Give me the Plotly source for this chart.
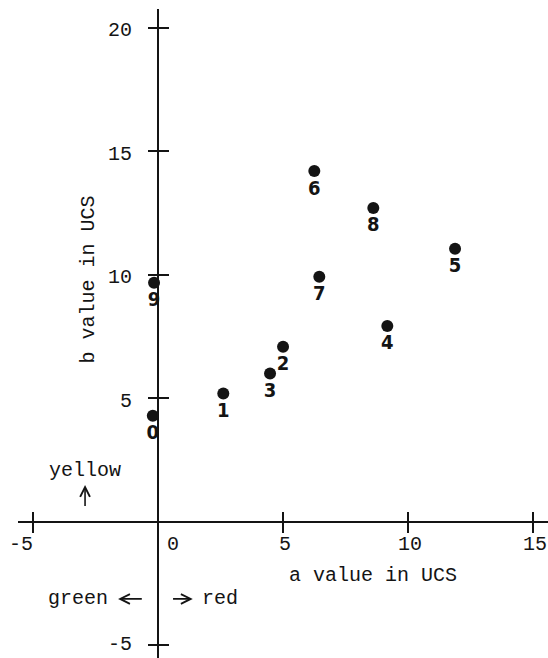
import plotly.graph_objects as go

# Data
point_labels = ["0", "1", "2", "3", "4", "5", "6", "7", "8", "9"]
a_values = [-0.22, 2.6, 4.99, 4.47, 9.16, 11.87, 6.24, 6.44, 8.6, -0.17]
b_values = [4.29, 5.19, 7.08, 6.0, 7.92, 11.05, 14.19, 9.91, 12.7, 9.67]

x_ticks = [-5, 5, 10, 15]
y_ticks = [-5, 5, 10, 15, 20]
x_tick_labels = ["-5", "5", "10", "15"]
y_tick_labels = ["-5", "5", "10", "15", "20"]

W, H = 548, 658
ML, MR, MT, MB = 18, 0, 9, 0
X_RANGE = [-5.612, 15.588]
Y_RANGE = [-5.522, 20.753]

MONO = "Liberation Mono, Courier New, DejaVu Sans Mono, monospace"
NARROW = "Liberation Sans Narrow, DejaVu Sans Condensed, Arial Narrow, Liberation Sans, sans-serif"
INK = "#141414"

fig = go.Figure()

fig.add_trace(go.Scatter(
    x=a_values, y=b_values, mode="markers+text",
    text=point_labels, textposition="bottom center",
    marker=dict(size=12, color=INK),
    textfont=dict(family=NARROW, size=20, color=INK, weight="bold"),
    showlegend=False, hoverinfo="skip",
))
# invisible trace on the overlay axes so they render
fig.add_trace(go.Scatter(x=[0], y=[0], xaxis="x2", yaxis="y2", mode="markers",
                         marker=dict(size=1, opacity=0), showlegend=False, hoverinfo="skip"))

y_axis_pos = (0 - X_RANGE[0]) / (X_RANGE[1] - X_RANGE[0])
x_axis_pos = (0 - Y_RANGE[0]) / (Y_RANGE[1] - Y_RANGE[0])

common_x = dict(range=X_RANGE, showgrid=False, showline=False, showticklabels=False,
                tickvals=x_ticks, ticklen=10, tickwidth=2, tickcolor=INK,
                anchor="free", position=x_axis_pos, fixedrange=True)
common_y = dict(range=Y_RANGE, showgrid=False, showline=False, showticklabels=False,
                tickvals=y_ticks, ticklen=10, tickwidth=2, tickcolor=INK,
                anchor="free", position=y_axis_pos, fixedrange=True)

fig.update_layout(
    width=W, height=H,
    margin=dict(l=ML, r=MR, t=MT, b=MB, pad=0),
    paper_bgcolor="white", plot_bgcolor="white",
    xaxis=dict(**common_x, ticks="outside", zeroline=True, zerolinecolor=INK, zerolinewidth=2),
    yaxis=dict(**common_y, ticks="outside", zeroline=True, zerolinecolor=INK, zerolinewidth=2),
    xaxis2=dict(**common_x, ticks="inside", overlaying="x", zeroline=False),
    yaxis2=dict(**common_y, ticks="inside", overlaying="y", zeroline=False),
    showlegend=False,
)

ann = []
for v, t in zip(x_ticks, x_tick_labels):
    if t.startswith("-"):
        ann.append(dict(x=v, y=0, text=t, xanchor="right", yanchor="middle", xshift=2, yshift=-23))
    else:
        ann.append(dict(x=v, y=0, text=t, xanchor="center", yanchor="middle", xshift=2, yshift=-23))
ann.append(dict(x=0, y=0, text="0", xanchor="center", yanchor="middle", xshift=15, yshift=-23))
for v, t in zip(y_ticks, y_tick_labels):
    ys = 1 if v < 0 else -3
    ann.append(dict(x=0, y=v, text=t, xanchor="right", yanchor="middle", xshift=-24, yshift=ys))

ann.append(dict(x=8.59, y=-2.2, text="a value in UCS", xanchor="center", yanchor="middle"))
ann.append(dict(x=-2.83, y=9.78, text="b value in UCS", textangle=-90, xanchor="center", yanchor="middle"))
ann.append(dict(x=-2.93, y=2.05, text="yellow", xanchor="center", yanchor="middle"))
ann.append(dict(x=-1.93, y=-3.13, text="green", xanchor="right", yanchor="middle"))
ann.append(dict(x=1.67, y=-3.13, text="red", xanchor="left", yanchor="middle"))

# direction arrows (head at x,y ; tail at ax,ay in data units)
arrows = [
    dict(x=-2.93, y=1.48, ax=-2.93, ay=0.57),   # up (yellow)
    dict(x=-1.61, y=-3.13, ax=-0.6, ay=-3.13),   # left (green)
    dict(x=1.38, y=-3.13, ax=0.53, ay=-3.13),    # right (red)
]
for ar in arrows:
    ann.append(dict(**ar, axref="x", ayref="y", text="", showarrow=True,
                    arrowhead=5, arrowsize=1.2, arrowwidth=1.6, arrowcolor=INK,
                    standoff=0, startstandoff=0, font=dict(size=1)))

for a in ann:
    a.setdefault("showarrow", False)
    a.setdefault("xref", "x")
    a.setdefault("yref", "y")
    f = a.get("font", {})
    f.setdefault("family", MONO)
    f.setdefault("size", 20)
    f.setdefault("color", INK)
    a["font"] = f
fig.update_layout(annotations=ann)

fig.write_html("out.html")
